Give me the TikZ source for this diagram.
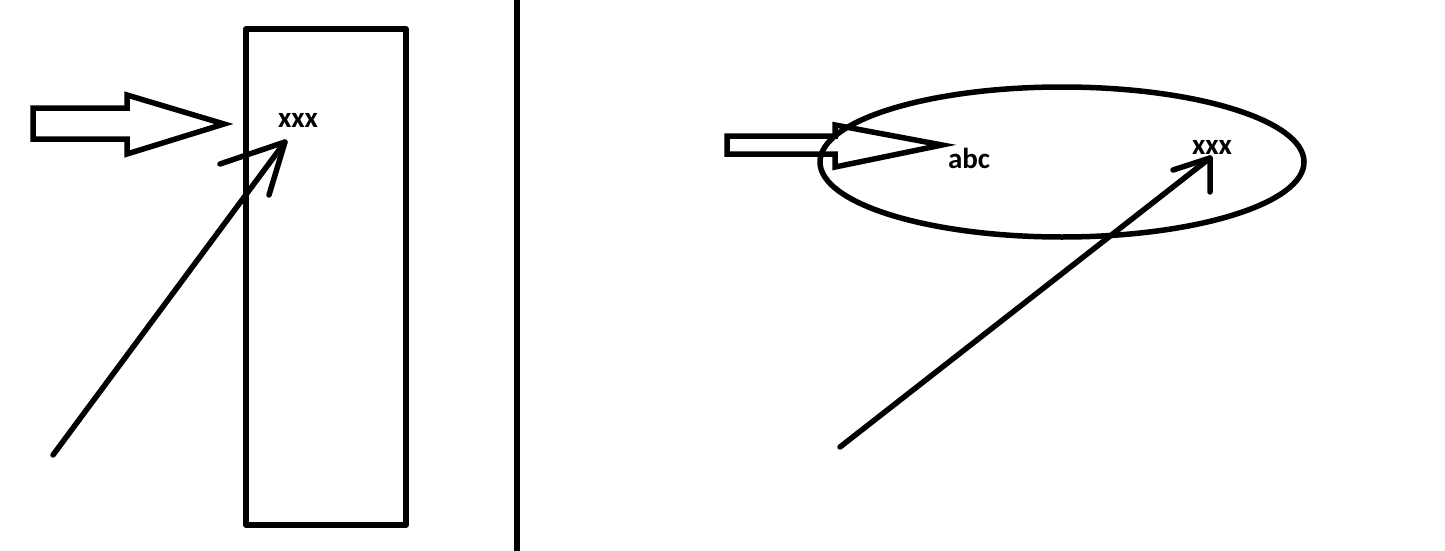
\documentclass[tikz,border=0pt]{standalone}
\usepackage{fontspec}
\setmainfont{Carlito}
\begin{document}
\begin{tikzpicture}[x=1pt,y=-1pt,line width=5.5pt,line join=round,line cap=round,
  lbl/.style={font=\bfseries\fontsize{29}{29}\selectfont,inner sep=0pt},
  outline/.style={draw,line width=5.5pt},
  barb/.style={draw,line width=5.5pt,line cap=round}]
\useasboundingbox (0,0) rectangle (1445,551);
\fill[white] (0,0) rectangle (1445,551);
% left panel
\draw[outline,line cap=butt] (246,29) rectangle (406,525);
\draw[outline,line cap=butt] (517,0) -- (517,551);
\draw[outline,line join=miter] (33,108) -- (127,108) -- (127,95) -- (224,124) -- (127,154) -- (127,139) -- (33,139) -- cycle;
\node[lbl] (x1) at (298,120) {xxx};
\coordinate (s1) at (53,455);
\coordinate (t1) at (285,142);
\coordinate (b1a) at (220,164);
\coordinate (b1b) at (269,195);
\draw[barb] (s1) -- (t1);
\draw[barb] (b1a) -- (t1) -- (b1b);
% right panel
\draw[outline] (1062,162) ellipse [x radius=242pt,y radius=75pt];
\draw[outline,line join=miter] (727,136) -- (835,136) -- (835,125) -- (942,145) -- (835,167) -- (835,154) -- (727,154) -- cycle;
\node[lbl] (abc) at (969,158) {abc};
\node[lbl] (x2) at (1212,147) {xxx};
\coordinate (s2) at (840,447);
\coordinate (t2) at (1210,158);
\coordinate (b2a) at (1173,170);
\coordinate (b2b) at (1210,192);
\draw[barb] (s2) -- (t2);
\draw[barb] (b2a) -- (t2) -- (b2b);
\end{tikzpicture}
\end{document}
